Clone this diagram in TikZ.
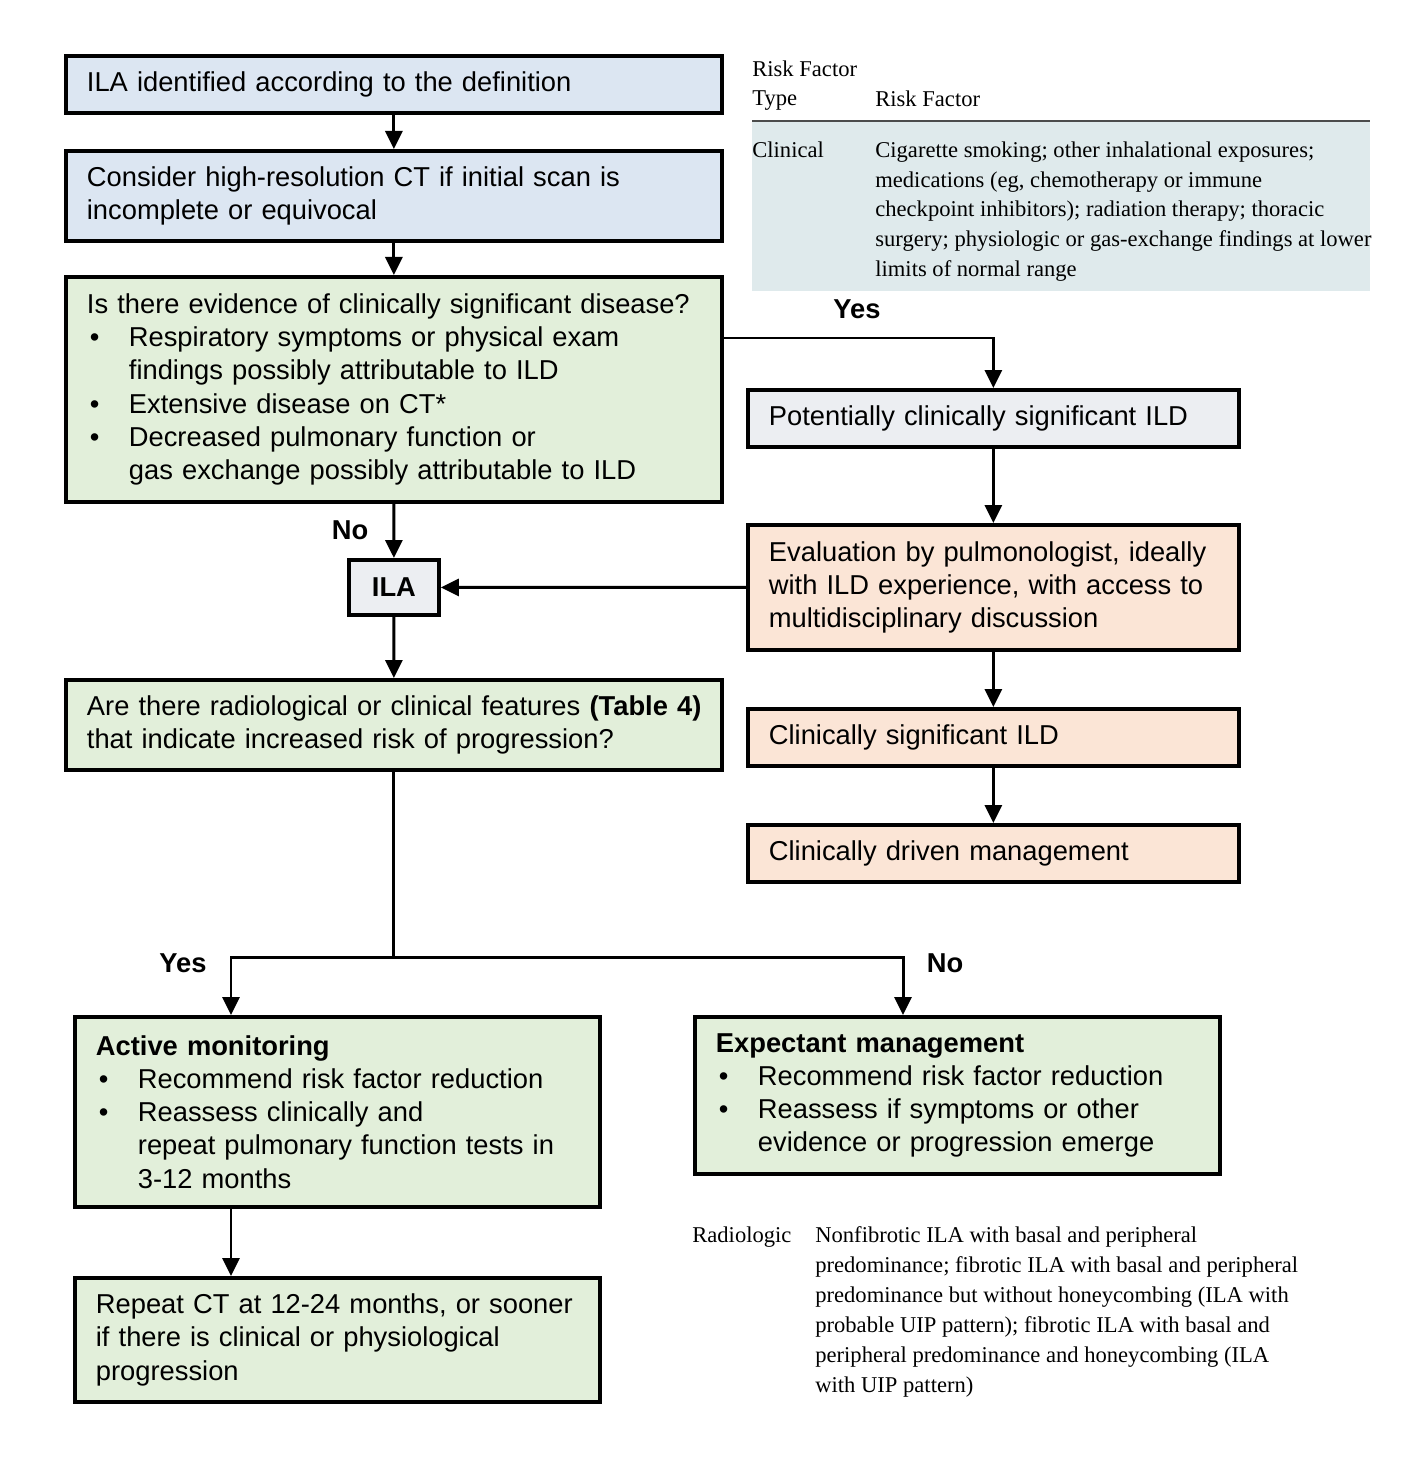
\documentclass[tikz,border=0pt]{standalone}
\usepackage{fontspec}
\setmainfont{Liberation Serif}
\newfontfamily\flowfont{Liberation Sans}
\usetikzlibrary{positioning, calc, arrows.meta}

\definecolor{ilablue}{RGB}{220,230,242}
\definecolor{ilagreen}{RGB}{226,239,218}
\definecolor{ilagray}{RGB}{236,238,242}
\definecolor{ilapeach}{RGB}{251,229,214}
\definecolor{tabshade}{RGB}{223,234,236}

\newcommand{\bul}{\makebox[0.84cm][l]{\hspace{0.06cm}\textbullet}}
\newcommand{\ind}{\hspace*{0.84cm}}

\tikzset{
  box/.style={draw, line width=2.2pt, anchor=north west, inner xsep=0.42cm, inner ysep=0pt,
    align=left, font=\flowfont\fontsize{15.55}{18.9}\selectfont},
  wide/.style={minimum width=13.12cm, text width=12.28cm},
  side/.style={minimum width=9.82cm, text width=8.98cm},
  low/.style={minimum width=10.5cm, text width=9.66cm},
  arr/.style={line width=1.7pt, -{Triangle[length=0.36cm,width=0.34cm]}},
  lab/.style={font=\flowfont\bfseries\fontsize{15.55}{18.9}\selectfont},
  tab/.style={anchor=north west, inner sep=0pt, align=left, font=\fontsize{12.85}{17.07}\selectfont}
}

\begin{document}
\begin{tikzpicture}[x=0.02cm, y=-0.02cm]
\useasboundingbox (0,0) rectangle (1408,1462);

% table of risk factors
\fill[tabshade] (752,122) rectangle (1370,291);
\draw[line width=0.8pt, black!70] (752,121) -- (1370,121);
\node[tab] (rftype) at (752,60) {Risk Factor\\Type};
\node[tab] (rfhead) at (875,90) {Risk Factor};
\node[tab] (clin) at (752,141) {Clinical};
\node[tab] (clintext) at (875,141) {Cigarette smoking; other inhalational exposures;\\
  medications (eg, chemotherapy or immune\\
  checkpoint inhibitors); radiation therapy; thoracic\\
  surgery; physiologic or gas-exchange findings at lower\\
  limits of normal range};
\node[tab] (radio) at (692,1226) {Radiologic};
\node[tab] (radiotext) at (815,1226) {Nonfibrotic ILA with basal and peripheral\\
  predominance; fibrotic ILA with basal and peripheral\\
  predominance but without honeycombing (ILA with\\
  probable UIP pattern); fibrotic ILA with basal and\\
  peripheral predominance and honeycombing (ILA\\
  with UIP pattern)};

% flow chart
\node[box, wide, fill=ilablue, minimum height=1.14cm] (start) at (64,54) {ILA identified according to the definition};
\node[box, wide, fill=ilablue, minimum height=1.8cm] (hrct) at (64,149) {Consider high-resolution CT if initial scan is\\incomplete or equivocal};
\node[box, wide, fill=ilagreen, minimum height=4.5cm] (sig) at (64,275) {\mbox{Is there evidence of clinically significant disease?}\\
  \bul Respiratory symptoms or physical exam\\
  \ind findings possibly attributable to ILD\\
  \bul Extensive disease on CT*\\
  \bul Decreased pulmonary function or\\
  \ind gas exchange possibly attributable to ILD};
\node[box, side, fill=ilagray, minimum height=1.14cm] (pot) at (746,388) {Potentially clinically significant ILD};
\node[box, side, fill=ilapeach, minimum height=2.5cm] (eval) at (746,523) {\mbox{Evaluation by pulmonologist, ideally}\\\mbox{with ILD experience, with access to}\\multidisciplinary discussion};
\node[box, fill=ilagray, minimum width=1.8cm, minimum height=1.1cm, inner xsep=0pt, align=center, font=\flowfont\bfseries\fontsize{15.55}{18.9}\selectfont] (ila) at (347,558) {ILA};
\node[box, wide, fill=ilagreen, minimum height=1.8cm] (risk) at (64,678) {\mbox{Are there radiological or clinical features \textbf{(Table 4)}}\\that indicate increased risk of progression?};
\node[box, side, fill=ilapeach, minimum height=1.14cm] (csild) at (746,707) {Clinically significant ILD};
\node[box, side, fill=ilapeach, minimum height=1.14cm] (mgmt) at (746,823) {Clinically driven management};
\node[box, low, fill=ilagreen, minimum height=3.8cm] (active) at (73,1015) {\textbf{Active monitoring}\\
  \bul Recommend risk factor reduction\\
  \bul Reassess clinically and\\
  \ind repeat pulmonary function tests in\\
  \ind 3-12 months};
\node[box, low, fill=ilagreen, minimum height=3.14cm] (expect) at (693,1015) {\textbf{Expectant management}\\
  \bul Recommend risk factor reduction\\
  \bul Reassess if symptoms or other\\
  \ind evidence or progression emerge};
\node[box, low, fill=ilagreen, minimum height=2.48cm] (repeat) at (73,1276) {Repeat CT at 12-24 months, or sooner\\if there is clinical or physiological\\progression};

\coordinate (yesturn) at (pot.north |- 0,338);
\coordinate (yesc) at (231,957);
\coordinate (noc) at (903,957);
\coordinate (split) at (risk.south |- yesc);

\node[lab] (yes1) at (857,309) {Yes};
\node[lab] (no1) at (350,530) {No};
\node[lab] (yes2) at (183,963) {Yes};
\node[lab] (no2) at (945,963) {No};

\draw[arr] (start) -- (hrct);
\draw[arr] (hrct) -- (sig);
\draw[arr] (sig.east |- yesturn) -- (yesturn) -- (pot.north);
\draw[arr] (sig) -- (ila);
\draw[arr] (pot) -- (eval);
\draw[arr] (eval) -- (ila);
\draw[arr] (ila) -- (risk);
\draw[arr] (eval) -- (csild);
\draw[arr] (csild) -- (mgmt);
\draw[line width=1.7pt] (risk.south) -- (split);
\draw[arr] (split) -- (yesc) -- (yesc |- active.north);
\draw[arr] (split) -- (noc) -- (noc |- expect.north);
\draw[arr] (yesc |- active.south) -- (yesc |- repeat.north);
\end{tikzpicture}
\end{document}
